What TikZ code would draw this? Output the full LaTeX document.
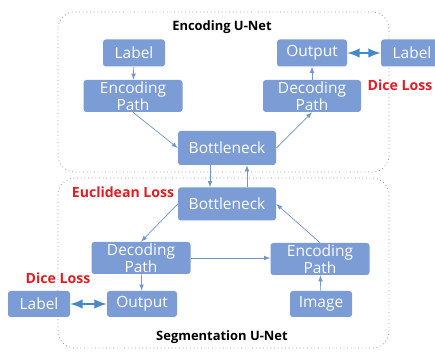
\documentclass[tikz,border=0pt]{standalone}
\usepackage{fontspec}
\setmainfont{Open Sans}
\usepackage{xcolor}
\usetikzlibrary{arrows}
\definecolor{nblue}{RGB}{124,156,214}
\definecolor{lblue}{RGB}{112,150,204}
\definecolor{dblue}{RGB}{66,138,204}
\definecolor{lred}{RGB}{228,28,36}

\begin{document}
\begin{tikzpicture}[x=0.025cm, y=-0.025cm,
  blk/.style={fill=nblue, rounded corners=2pt, text=white, align=center,
    font=\fontsize{11}{10.5}\selectfont, inner sep=0pt},
  conn/.style={-latex, color=lblue, line width=0.5pt},
  loss/.style={latex-latex, color=dblue, line width=2pt},
  net/.style={draw=black!40, dotted, line width=0.6pt, rounded corners=12pt},
  losstxt/.style={text=lred, font=\fontsize{10}{11}\selectfont\bfseries},
  title/.style={font=\fontsize{9.2}{11}\selectfont\bfseries}]%
  \def\px{0.025cm}%
  \useasboundingbox[fill=white] (0,0) rectangle (435,352);

  %networks:
  \draw[net] (58,12) rectangle (389,172);
  \draw[net] (58,178) rectangle (389,348);
  \node[title] (tenc) at (222,27) {Encoding U-Net};
  \node[title] (tseg) at (222,337) {Segmentation U-Net};

  %encoding u-net
  \node[blk, minimum width=62*\px, minimum height=27*\px] (lbl1) at (134,53) {Label};
  \node[blk, minimum width=99*\px, minimum height=32*\px] (enc1) at (133,96) {Encoding\\Path};
  \node[blk, minimum width=98*\px, minimum height=34*\px] (bot1) at (227,148) {Bottleneck};
  \node[blk, minimum width=98*\px, minimum height=32*\px] (dec1) at (312,96) {Decoding\\Path};
  \node[blk, minimum width=70*\px, minimum height=27*\px] (out1) at (312,53) {Output};
  \node[blk, minimum width=62*\px, minimum height=27*\px] (lbl2) at (412,53) {Label};
  \node[losstxt] (dice1) at (400,85) {Dice Loss};

  %segmentation u-net
  \node[blk, minimum width=98*\px, minimum height=33*\px] (bot2) at (227,204) {Bottleneck};
  \node[blk, minimum width=99*\px, minimum height=32*\px] (dec2) at (141,258) {Decoding\\Path};
  \node[blk, minimum width=99*\px, minimum height=32*\px] (enc2) at (320,259) {Encoding\\Path};
  \node[blk, minimum width=70*\px, minimum height=26*\px] (out2) at (142,304) {Output};
  \node[blk, minimum width=62*\px, minimum height=26*\px] (lbl3) at (39,304) {Label};
  \node[blk, minimum width=62*\px, minimum height=26*\px] (img) at (321,304) {Image};
  \node[losstxt] (eucl) at (123,192) {Euclidean Loss};
  \node[losstxt] (dice2) at (58,278) {Dice Loss};

  %connections
  \draw[conn] (lbl1) -- (enc1);
  \draw[conn] (enc1.south) -- (bot1.west);
  \draw[conn] (bot1.east) -- (dec1.south);
  \draw[conn] (dec1) -- (out1);
  \draw[loss] (out1) -- (lbl2);

  \draw[conn] ([xshift=-17*\px]bot1.south) -- ([xshift=-17*\px]bot2.north);
  \draw[conn] ([xshift=20*\px]bot2.north) -- ([xshift=20*\px]bot1.south);

  \draw[conn] (bot2.west) -- (dec2.north);
  \draw[conn] (dec2.east) -- (enc2.west |- dec2.east);
  \draw[conn] (enc2.north) -- (bot2.east);
  \draw[conn] (img) -- (enc2);
  \draw[conn] (dec2) -- (out2);
  \draw[loss] (lbl3) -- (out2);
\end{tikzpicture}
\end{document}
